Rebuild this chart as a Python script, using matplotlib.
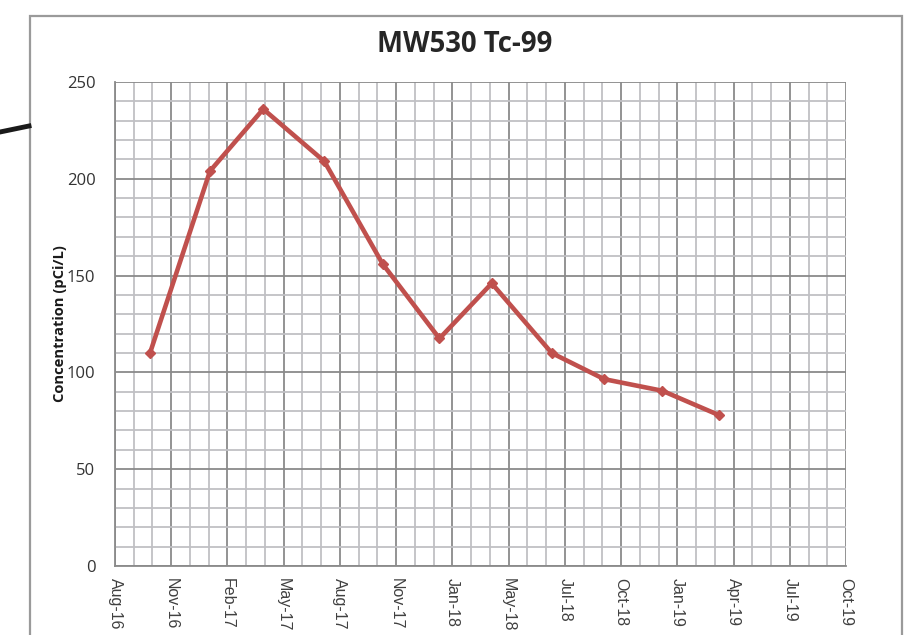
import matplotlib
matplotlib.use("Agg")
import matplotlib.pyplot as plt
from matplotlib.lines import Line2D
from matplotlib.patches import Rectangle

# Sample position in months after Aug-2016, and Tc-99 result (pCi/L)
sample_month = [1.87, 5.07, 7.91, 11.17, 14.28, 17.31, 20.1, 23.3, 26.1, 29.2, 32.2]
tc99 = [110, 204, 236, 209, 156, 117.5, 146, 110, 96.5, 90.5, 78]

# x tick labels as printed by the original spreadsheet axis (every 3 months)
tick_labels = ["Aug-16", "Nov-16", "Feb-17", "May-17", "Aug-17", "Nov-17", "Jan-18",
               "May-18", "Jul-18", "Oct-18", "Jan-19", "Apr-19", "Jul-19", "Oct-19"]
y_ticks = [0, 50, 100, 150, 200, 250]

fig = plt.figure(figsize=(9.22, 6.35), dpi=100)
ax = fig.add_axes([0.1247, 0.1087, 0.7929, 0.7622])

# chart border and stray arrow line from the source document
fig.add_artist(Rectangle((29.5 / 922, -0.1), (902 - 29.5) / 922, 1.1 - 15.5 / 635,
                         transform=fig.transFigure, fill=False,
                         edgecolor="#9a9a9a", linewidth=1.6))
fig.add_artist(Line2D([0, 29 / 922], [1 - 132 / 635, 1 - 126 / 635],
                      transform=fig.transFigure, color="#1a1a1a", linewidth=3.5))

ax.plot(sample_month, tc99, color="#C0504D", linewidth=3.3,
        marker="D", markersize=5, zorder=3)

ax.set_xlim(0, 39)
ax.set_ylim(0, 250)
ax.set_xticks(range(0, 40, 3))
ax.set_xticks(range(0, 40), minor=True)
ax.set_xticklabels(tick_labels, rotation=-90, family="Liberation Sans",
                   fontsize=11.5, color="#404040")
ax.set_yticks(y_ticks)
ax.set_yticks(range(0, 251, 10), minor=True)
ax.set_yticklabels([str(v) for v in y_ticks], family="Open Sans",
                   fontsize=12, color="#333333")

ax.grid(which="minor", color="#c0c0c4", linewidth=1.3, zorder=0)
ax.grid(which="major", color="#8a8a8a", linewidth=1.3, zorder=1)
ax.set_axisbelow(True)
ax.tick_params(which="both", length=0)
ax.tick_params(axis="y", pad=14)
ax.tick_params(axis="x", pad=9)
for side in ["top", "right"]:
    ax.spines[side].set_visible(False)
for side in ["left", "bottom"]:
    ax.spines[side].set_color("#8a8a8a")
    ax.spines[side].set_linewidth(1.3)

ax.set_ylabel("Concentration (pCi/L)", family="Open Sans", fontweight="bold",
              fontsize=10.6, color="#1a1a1a", labelpad=0)
fig.text(465 / 922, 1 - 45 / 635, "MW530 Tc-99", family="Open Sans",
         fontweight="bold", fontsize=19.8, color="#262626", ha="center", va="center")

fig.savefig("out.png", dpi=100)
